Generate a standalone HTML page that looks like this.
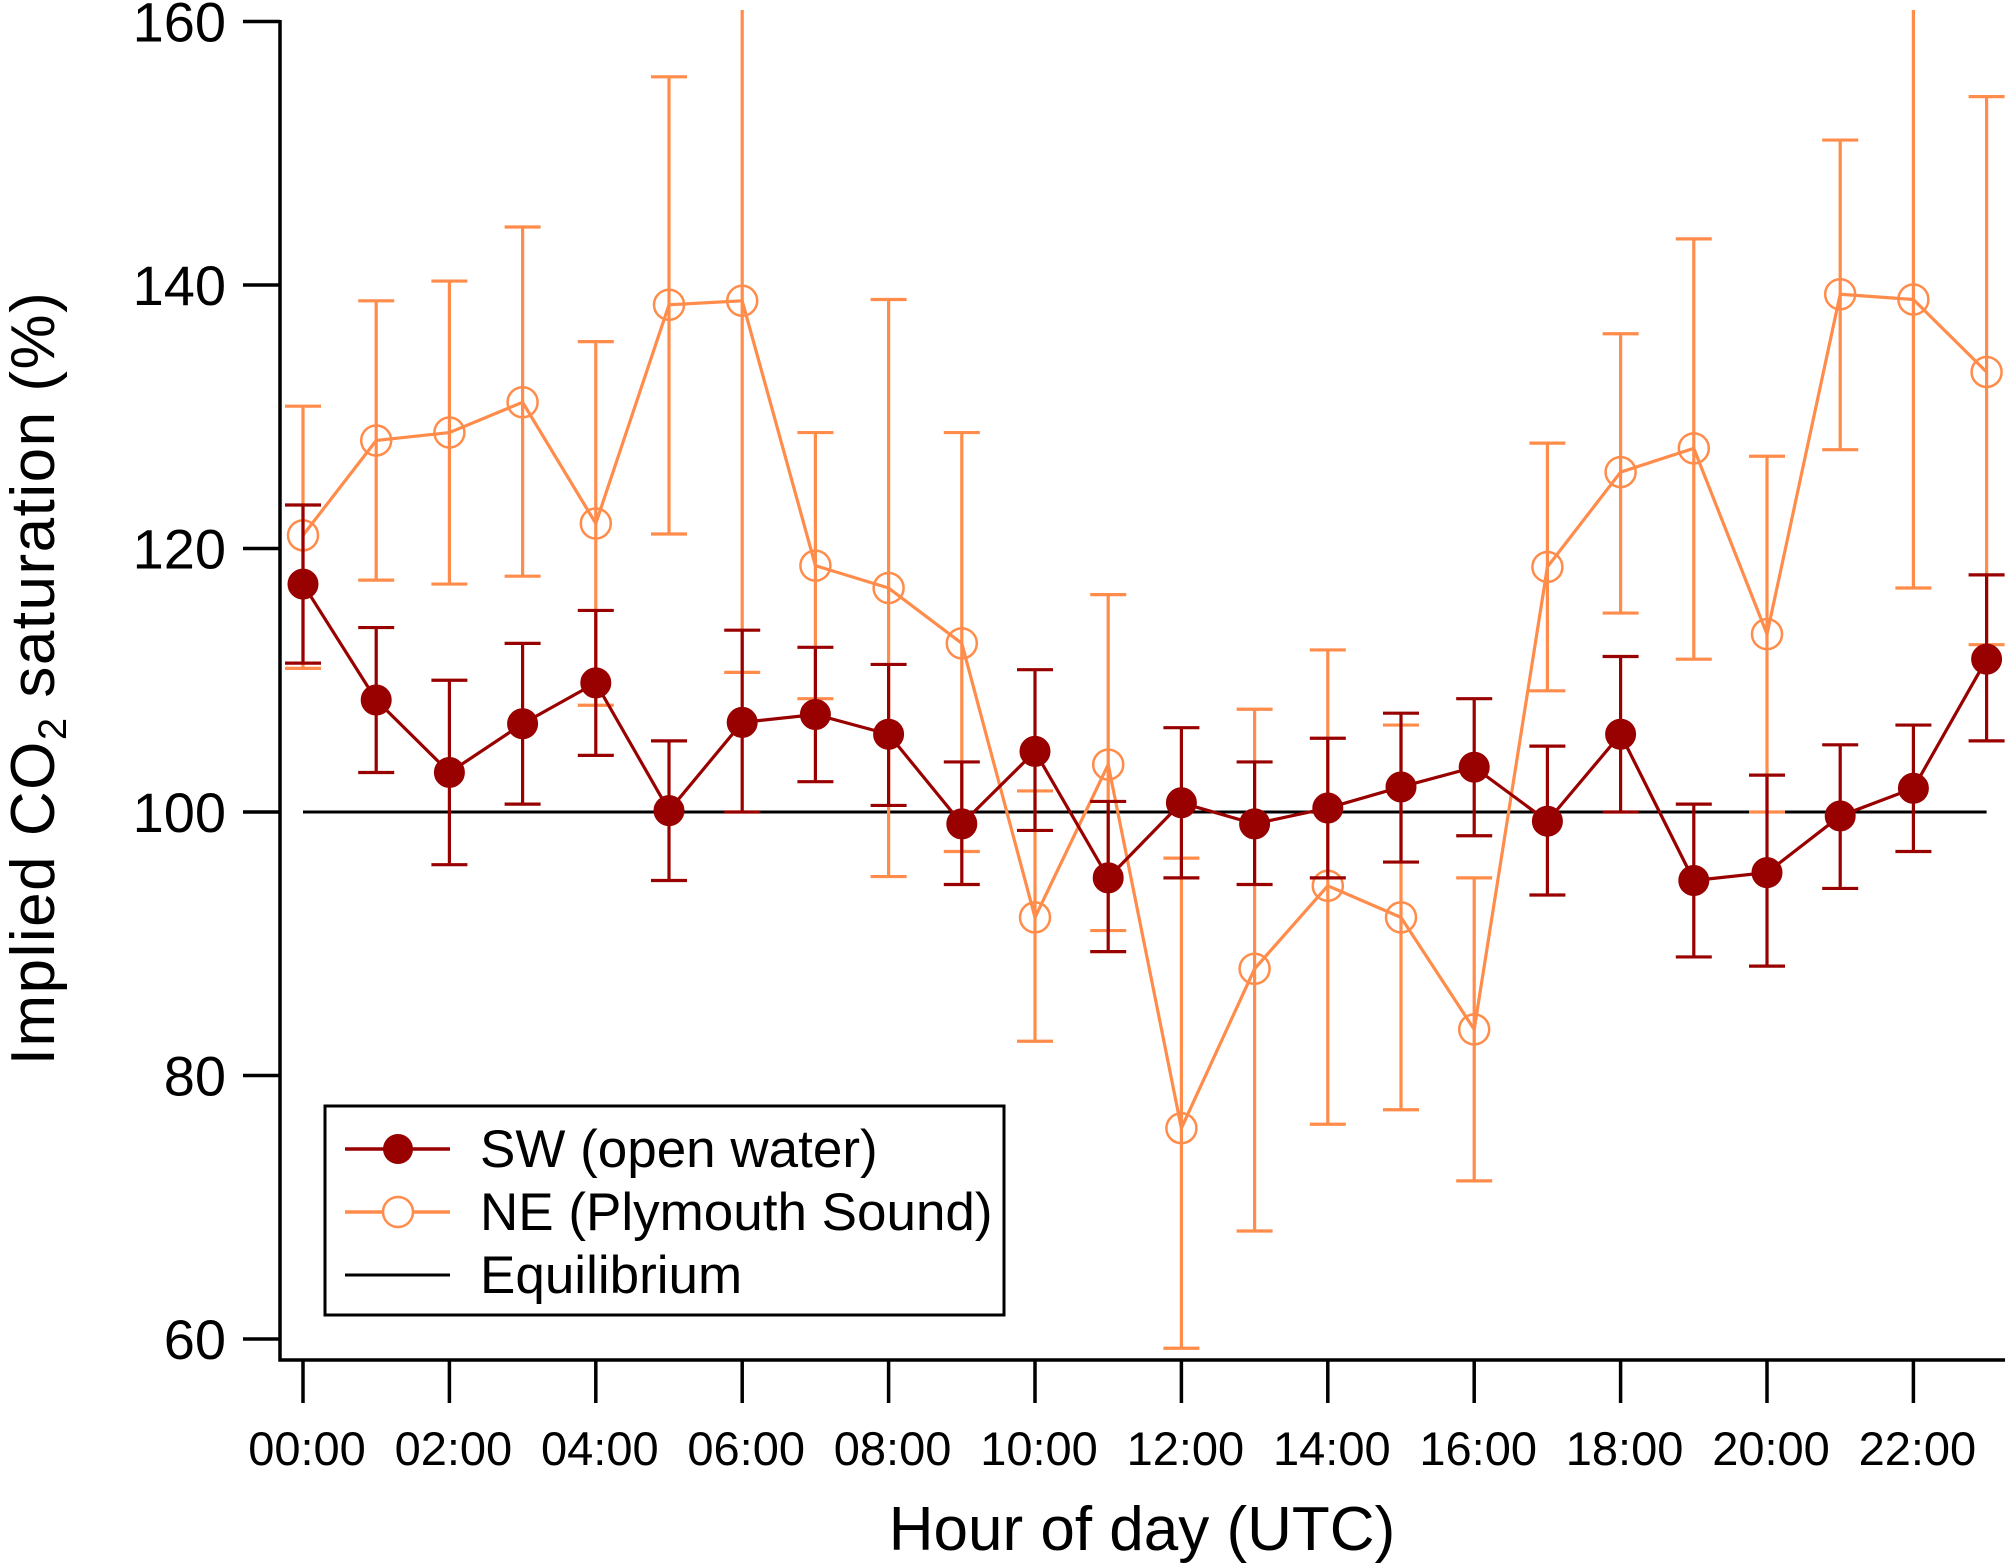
<!DOCTYPE html>
<html><head><meta charset="utf-8"><style>
html,body{margin:0;padding:0;background:#fff;}
svg{display:block;font-family:"Liberation Sans",sans-serif;}
</style></head><body>
<svg id="chart" width="2005" height="1564" viewBox="0 0 2005 1564" xmlns="http://www.w3.org/2000/svg">
<defs><clipPath id="plotclip"><rect x="281" y="10" width="1724" height="1348"/></clipPath></defs>
<g id="axes"></g>
<g id="plot" clip-path="url(#plotclip)"></g>
<text x="1142" y="1550" font-size="62" text-anchor="middle">Hour of day (UTC)</text>
<text transform="translate(54,678) rotate(-90)" font-size="62" letter-spacing="1.5" text-anchor="middle">Implied CO<tspan font-size="40" dy="12">2</tspan><tspan dy="-12"> saturation (%)</tspan></text>
<g>
<rect x="325" y="1106" width="679" height="209" fill="#fff" stroke="#000" stroke-width="3"/>
<g>
<line x1="345" y1="1149" x2="450" y2="1149" stroke="#990000" stroke-width="3.5"/>
<circle cx="398" cy="1149" r="15" fill="#990000"/>
<text x="480" y="1167" font-size="53">SW (open water)</text></g>
<g>
<line x1="345" y1="1212" x2="450" y2="1212" stroke="#ff8c4a" stroke-width="3.5"/>
<circle cx="398" cy="1212" r="15" fill="#fff" stroke="#ff8c4a" stroke-width="2.5"/>
<text x="480" y="1230" font-size="53">NE (Plymouth Sound)</text></g>
<g>
<line x1="345" y1="1275" x2="450" y2="1275" stroke="#000" stroke-width="3"/>
<text x="480" y="1293" font-size="53">Equilibrium</text></g>
</g>
</svg>
<script>
const hours = [0,1,2,3,4,5,6,7,8,9,10,11,12,13,14,15,16,17,18,19,20,21,22,23];
const swMean = [117.3,108.5,103,106.7,109.8,100.1,106.8,107.4,105.9,99.1,104.6,95,100.7,99.1,100.3,101.9,103.4,99.3,105.9,94.8,95.4,99.7,101.8,111.6];
const swLow  = [111.3,103,96,100.6,104.3,94.8,100,102.3,100.5,94.5,98.6,89.4,95,94.5,95,96.2,98.2,93.7,100,89,88.3,94.2,97,105.4];
const swHigh = [123.3,114,110,112.8,115.3,105.4,113.8,112.5,111.2,103.8,110.8,100.8,106.4,103.8,105.6,107.5,108.6,105,111.8,100.6,102.8,105.1,106.6,118];
const neMean = [121,128.2,128.8,131.1,121.9,138.5,138.8,118.7,117,112.8,92,103.6,76,88.1,94.4,92,83.5,118.6,125.8,127.6,113.5,139.3,138.9,133.4];
const neLow  = [110.9,117.6,117.3,117.9,108.1,121.1,110.6,108.6,95.1,97,82.6,91,59.3,68.2,76.3,77.4,72,109.2,115.1,111.6,100,127.5,117,112.7];
const neHigh = [130.8,138.8,140.3,144.4,135.7,155.8,166,128.8,138.9,128.8,101.6,116.5,96.5,107.8,112.3,106.6,95,128,136.3,143.5,127,151,170,154.3];
const yTicks = [60,80,100,120,140,160];
const xTickHours = [0,2,4,6,8,10,12,14,16,18,20,22];
const xTickLabels = ["00:00","02:00","04:00","06:00","08:00","10:00","12:00","14:00","16:00","18:00","20:00","22:00"];
const equilibrium = 100;

const NS="http://www.w3.org/2000/svg";
function X(h){return 303+h*73.2;}
function Y(v){return 1339-(v-60)*13.175;}
function mk(parent,tag,attrs){const e=document.createElementNS(NS,tag);for(const k in attrs)e.setAttribute(k,attrs[k]);parent.appendChild(e);return e;}
const axes=document.getElementById('axes');
const plot=document.getElementById('plot');

let el=mk(axes,'path',{d:'M280,20 V1360 H2005',fill:'none',stroke:'#000','stroke-width':3.5});


yTicks.forEach(v=>{
  const t=mk(axes,'line',{x1:243,x2:280,y1:Y(v),y2:Y(v),stroke:'#000','stroke-width':3.5});
  
  
  const l=mk(axes,'text',{x:226,y:Y(v)+20,'font-size':56,'text-anchor':'end'});
  l.textContent=v;
  
  
});
xTickHours.forEach((h,i)=>{
  const t=mk(axes,'line',{x1:X(h),x2:X(h),y1:1360,y2:1403,stroke:'#000','stroke-width':3.5});
  
  
  const l=mk(axes,'text',{x:X(h)+4,y:1465,'font-size':47,'text-anchor':'middle'});
  l.textContent=xTickLabels[i];
  
  
});
const eq=mk(plot,'line',{x1:X(0),x2:X(23),y1:Y(equilibrium),y2:Y(equilibrium),stroke:'#000','stroke-width':3});



function series(name,mean,low,high,color,filled){
  const g=mk(plot,'g',{});
  
  
  hours.forEach((h,i)=>{
    const x=X(h);
    const b=mk(g,'path',{d:`M${x},${Y(low[i])}V${Y(high[i])}M${x-18},${Y(low[i])}H${x+18}M${x-18},${Y(high[i])}H${x+18}`,stroke:color,'stroke-width':3.2,fill:'none'});
    
    
  });
  const ln=mk(g,'polyline',{points:hours.map((h,i)=>X(h)+','+Y(mean[i])).join(' '),fill:'none',stroke:color,'stroke-width':3.2});
  
  
  hours.forEach((h,i)=>{
    const c=mk(g,'circle',{cx:X(h),cy:Y(mean[i]),r:15,fill:filled?color:'none',stroke:color,'stroke-width':filled?1:2.5});
    
    
  });
}
series('ne',neMean,neLow,neHigh,'#ff8c4a',false);
series('sw',swMean,swLow,swHigh,'#990000',true);
</script>
</body></html>
